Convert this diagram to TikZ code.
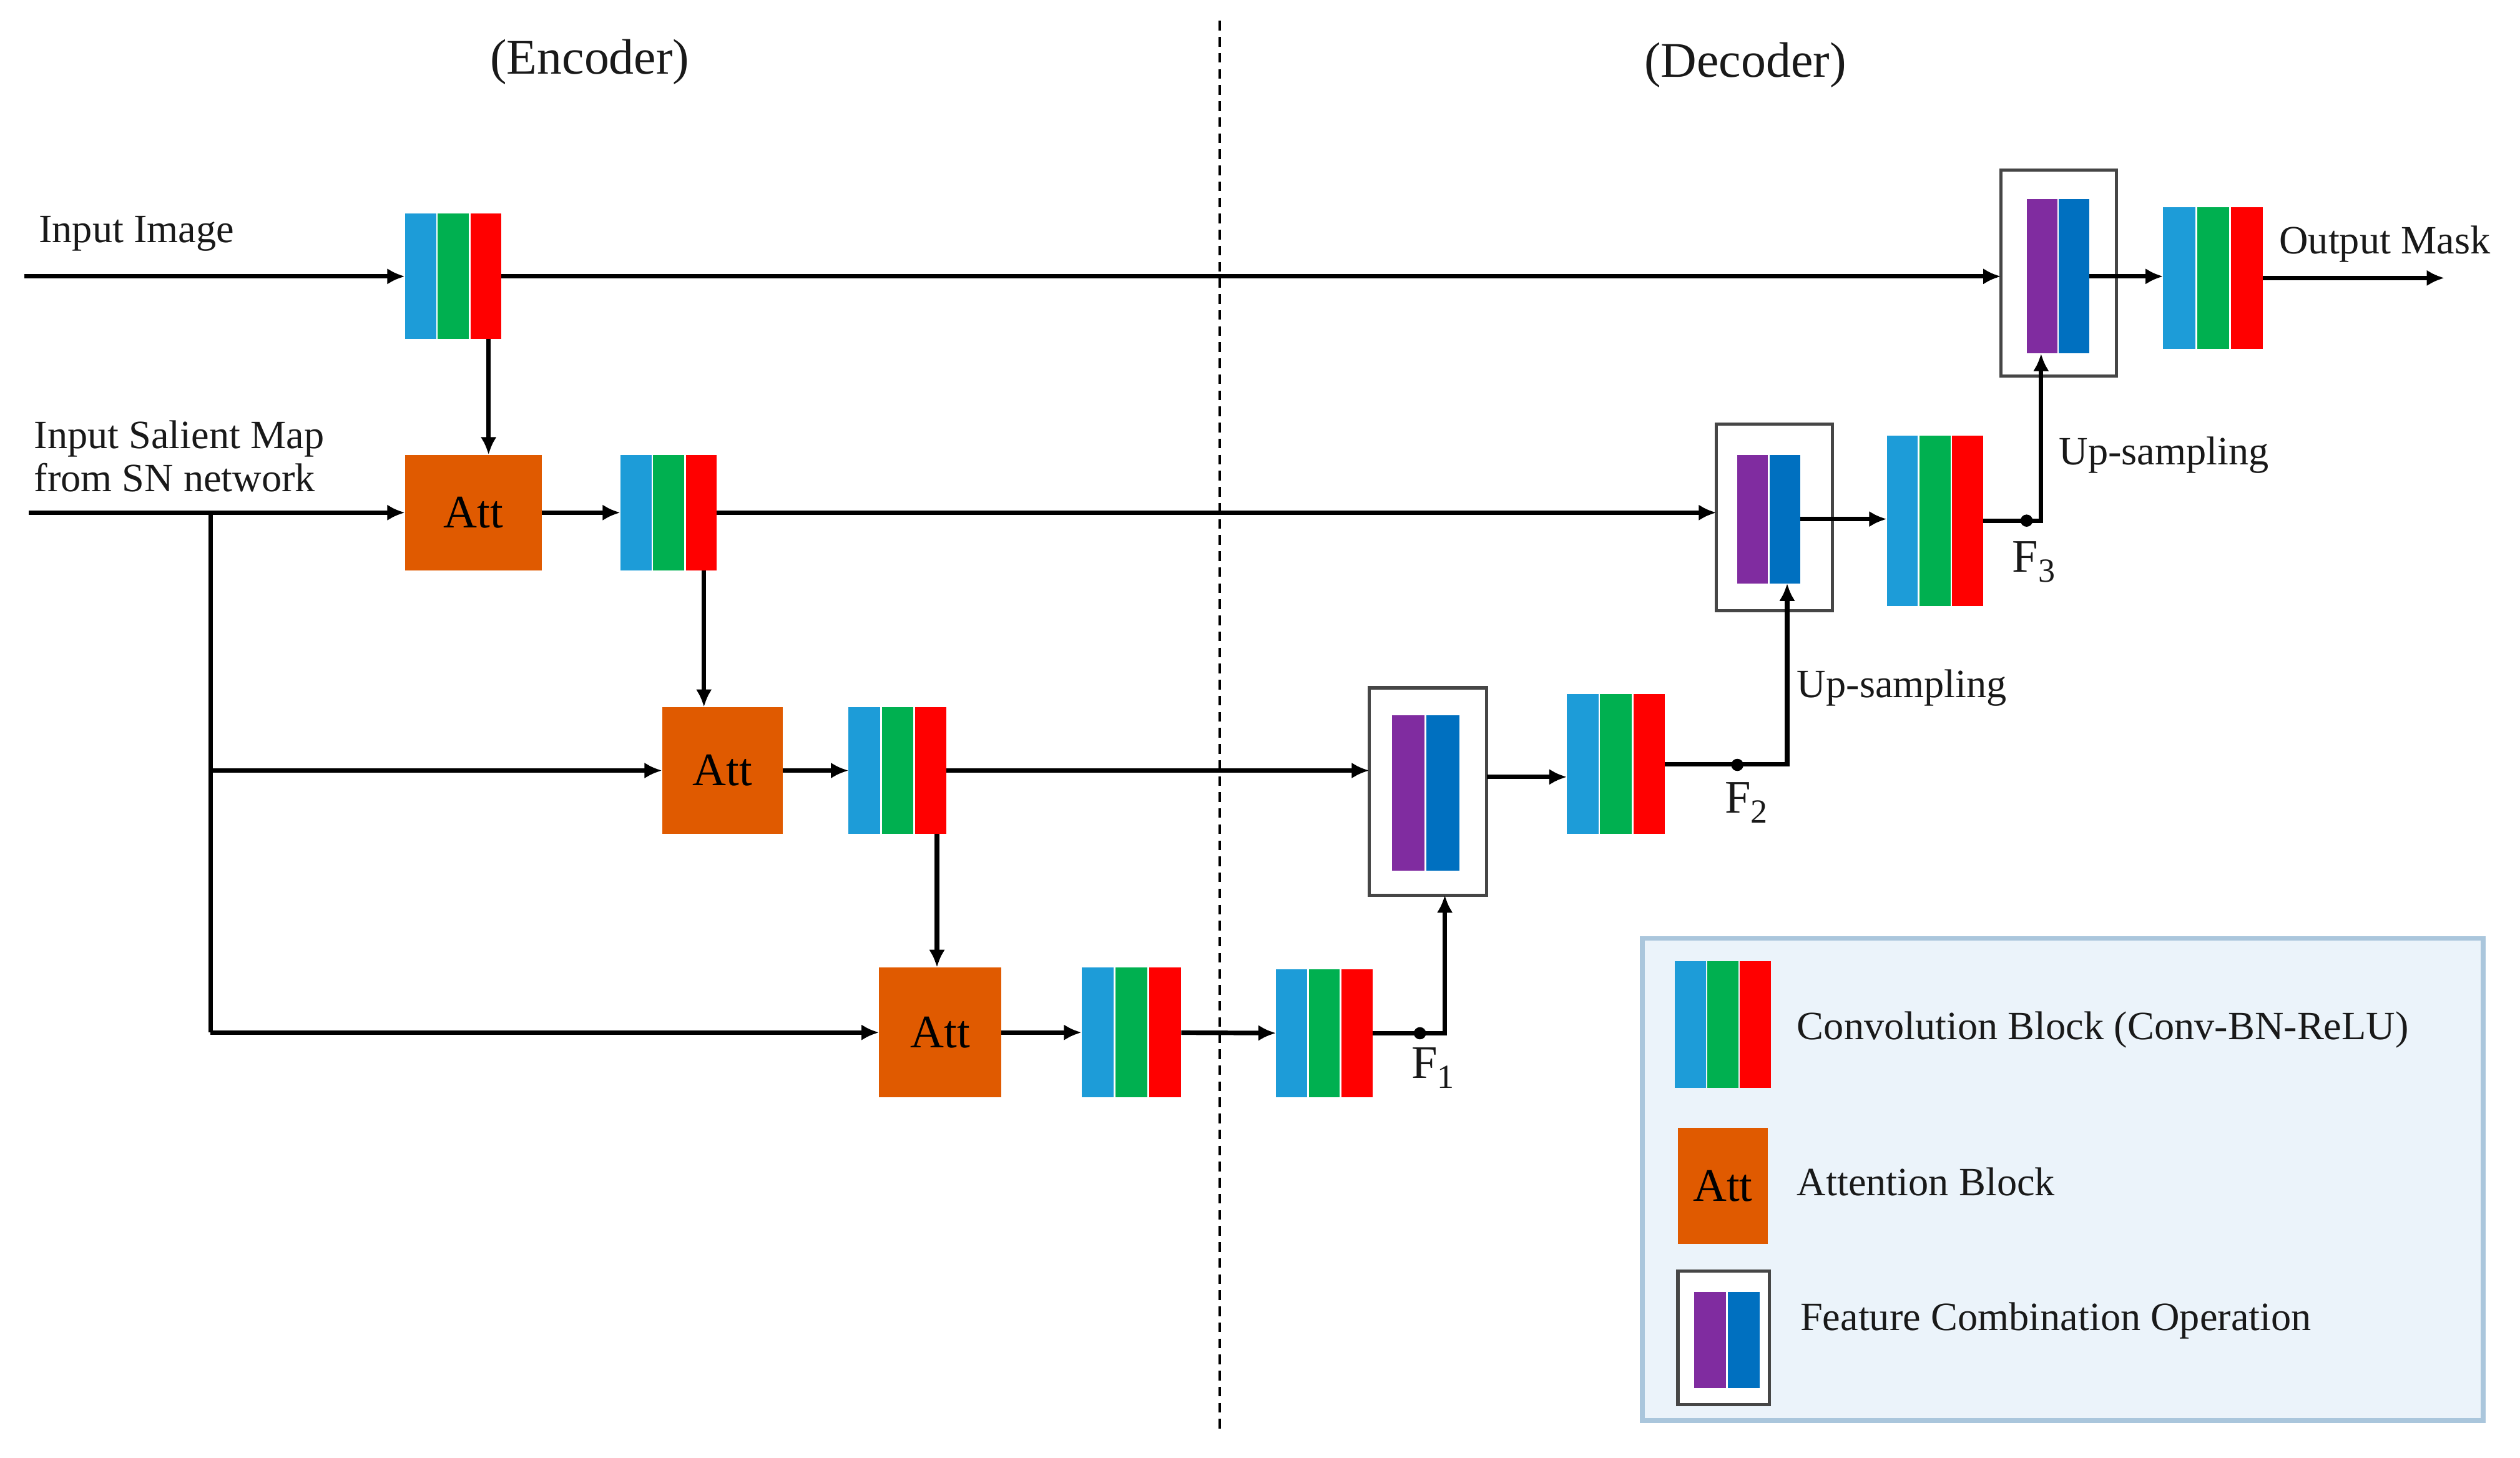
\documentclass[tikz,border=0pt]{standalone}
\usepackage{fontspec}
\setmainfont{Liberation Serif}
\usetikzlibrary{arrows.meta}
\definecolor{cblue}{RGB}{29,156,216}
\definecolor{cgreen}{RGB}{0,176,80}
\definecolor{cred}{RGB}{255,0,0}
\definecolor{catt}{RGB}{224,90,0}
\definecolor{cpurple}{RGB}{128,44,160}
\definecolor{cdblue}{RGB}{0,112,192}
\definecolor{legbg}{RGB}{235,243,250}
\definecolor{legdraw}{RGB}{170,198,220}
\definecolor{fgray}{RGB}{70,70,70}
\definecolor{txt}{RGB}{25,25,25}

\newcommand{\convblk}[5]{%
  \pgfmathsetmacro{\cbw}{#4-#2}%
  \pgfmathsetmacro{\cbh}{#5-#3}%
  \pgfmathsetmacro{\cbsw}{(\cbw-2)/3}%
  \node[blk, minimum width=\cbw pt, minimum height=\cbh pt] (#1) at ({(#2+#4)/2},{(#3+#5)/2}) {};
  \fill[cblue] (#1.north west) rectangle ([xshift=\cbsw pt]#1.south west);
  \fill[cgreen] ([xshift=\cbsw pt+1pt]#1.north west) rectangle ([xshift=2*\cbsw pt+1pt]#1.south west);
  \fill[cred] ([xshift=-\cbsw pt]#1.north east) rectangle (#1.south east);
}
\newcommand{\fuseblk}[9]{%
  \node[fusebox, minimum width={(#4-#2)*1pt}, minimum height={(#5-#3)*1pt}] (#1) at ({(#2+#4)/2},{(#3+#5)/2}) {};
  \node[blk, minimum width={(#7-#6)*1pt}, minimum height={(#9-#8)*1pt}] (#1in) at ({(#6+#7)/2},{(#8+#9)/2}) {};
  \pgfmathsetmacro{\fbh}{(#7-#6-1)/2}%
  \fill[cpurple] (#1in.north west) rectangle ([xshift=\fbh pt]#1in.south west);
  \fill[cdblue] ([xshift=-\fbh pt]#1in.north east) rectangle (#1in.south east);
}
\newcommand{\attblk}[5]{%
  \node[attbox, minimum width={(#4-#2)*1pt}, minimum height={(#5-#3)*1pt}] (#1) at ({(#2+#4)/2},{(#3+#5)/2}) {Att};
}

\begin{document}
\begin{tikzpicture}[x=1pt,y=-1pt,
  arr/.style={line width=2.8pt, draw=black, -{Latex[length=11pt,width=10pt]}},
  ln/.style={line width=2.8pt, draw=black},
  lbl/.style={anchor=base west, inner sep=0, text=txt, font=\fontsize{25}{27}\selectfont, align=left},
  flbl/.style={anchor=base west, inner sep=0, text=txt, font=\fontsize{29}{34}\selectfont},
  blk/.style={rectangle, inner sep=0, outer sep=0, draw=none},
  fusebox/.style={rectangle, inner sep=0, outer sep=0, draw=fgray, line width=2pt, fill=white},
  attbox/.style={rectangle, inner sep=0, outer sep=0, fill=catt, text=black, font=\fontsize{29}{34}\selectfont},
  dotc/.style={fill=black}
]
\useasboundingbox (0,0) rectangle (1568,907);

% titles and divider
\node[anchor=base, inner sep=0, text=txt, font=\fontsize{31}{37}\selectfont] (enc) at (367,46) {(Encoder)};
\node[anchor=base, inner sep=0, text=txt, font=\fontsize{31}{37}\selectfont] (dec) at (1086,48) {(Decoder)};
\coordinate (dtop) at (759,13);
\coordinate (dbot) at (759,890);
\draw[line width=1.3pt, dash pattern=on 6pt off 4pt] (dtop) -- (dbot);

% legend
\node[rectangle, inner sep=0, outer sep=0, fill=legbg, draw=legdraw, line width=3pt,
      minimum width=523pt, minimum height=300pt] (legend) at (1283.5,734) {};

% conv blocks
\convblk{c1}{252}{133}{312}{211}
\convblk{c2}{386}{283}{446}{355}
\convblk{c3}{528}{440}{589}{519}
\convblk{c4}{673}{602}{735}{683}
\convblk{c6}{794}{603}{854}{683}
\convblk{c5}{975}{432}{1036}{519}
\convblk{c7}{1174}{271}{1234}{377}
\convblk{cout}{1346}{129}{1408}{217}
\convblk{lconv}{1042}{598}{1102}{677}

% attention blocks
\attblk{a1}{252}{283}{337}{355}
\attblk{a2}{412}{440}{487}{519}
\attblk{a3}{547}{602}{623}{683}
\attblk{latt}{1044}{702}{1100}{774}

% feature combination boxes
\fuseblk{ftop}{1245}{106}{1317}{234}{1261}{1300}{124}{220}
\fuseblk{ftwo}{1068}{264}{1140}{380}{1081}{1120}{283}{363}
\fuseblk{fone}{852}{428}{925}{557}{866}{908}{445}{542}
\fuseblk{lfuse}{1044}{791}{1101}{874}{1054}{1095}{804}{864}

% text labels
\node[lbl] (tin) at (24,151) {Input Image};
\node[lbl] (tsal) at (21,306) {Input Salient Map\\from SN network};
\node[lbl] (tout) at (1418,158) {Output Mask};
\node[lbl] (tup1) at (1281,289) {Up-sampling};
\node[lbl] (tup2) at (1118,434) {Up-sampling};
\node[flbl] (tf1) at (878,671) {F\raisebox{-6pt}{\fontsize{21}{24}\selectfont 1}};
\node[flbl] (tf2) at (1073,506) {F\raisebox{-6pt}{\fontsize{21}{24}\selectfont 2}};
\node[flbl] (tf3) at (1252,356) {F\raisebox{-6pt}{\fontsize{21}{24}\selectfont 3}};
\node[lbl] (tl1) at (1118,647) {Convolution Block (Conv-BN-ReLU)};
\node[lbl] (tl2) at (1118,744) {Attention Block};
\node[lbl] (tl3) at (1120,828) {Feature Combination Operation};

% inputs
\coordinate (in1) at (15,172);
\coordinate (sal) at (18,319);
\coordinate (br) at (131,319);
\coordinate (outend) at (1521,173);
\coordinate (d1) at (883.5,643);
\coordinate (d2) at (1081,476);
\coordinate (d3) at (1261,324);

\draw[arr] (in1) -- (c1);
\draw[arr] (sal) -- (a1);
\draw[arr] (c1.east) -- (c1.east -| ftop.west);
\draw[arr] ([xshift=-8pt]c1.south east) -- ([xshift=-8pt]c1.south east |- a1.north);
\draw[arr] (a1) -- (c2);
\draw[arr] (c2.east) -- (c2.east -| ftwo.west);
\draw[arr] ([xshift=-8pt]c2.south east) -- ([xshift=-8pt]c2.south east |- a2.north);
\draw[ln] (br) -- (br |- a3);
\draw[arr] (br |- a2) -- (a2);
\draw[arr] (br |- a3) -- (a3);
\draw[arr] (a2) -- (c3);
\draw[arr] (c3.east) -- (c3.east -| fone.west);
\draw[arr] ([xshift=-6pt]c3.south east) -- ([xshift=-6pt]c3.south east |- a3.north);
\draw[arr] (a3) -- (c4);
\draw[arr] (c4) -- (c6);
\draw[arr] (c6.east) -| ([xshift=10.5pt]fone.south);
\fill[dotc] (d1) circle (3.8pt);
\draw[arr] ([yshift=9pt]fone.east) -- ([yshift=9pt]fone.east -| c5.west);
\draw[arr] (c5.east) -| ([xshift=11.5pt]ftwoin.south);
\fill[dotc] (d2) circle (3.8pt);
\draw[arr] (ftwoin.east) -- (ftwoin.east -| c7.west);
\draw[arr] (c7.east) -| ([xshift=-10.5pt]ftopin.south);
\fill[dotc] (d3) circle (3.8pt);
\draw[arr] (ftopin.east) -- (ftopin.east -| cout.west);
\draw[arr] (cout.east) -- (cout.east -| outend);
\end{tikzpicture}
\end{document}
